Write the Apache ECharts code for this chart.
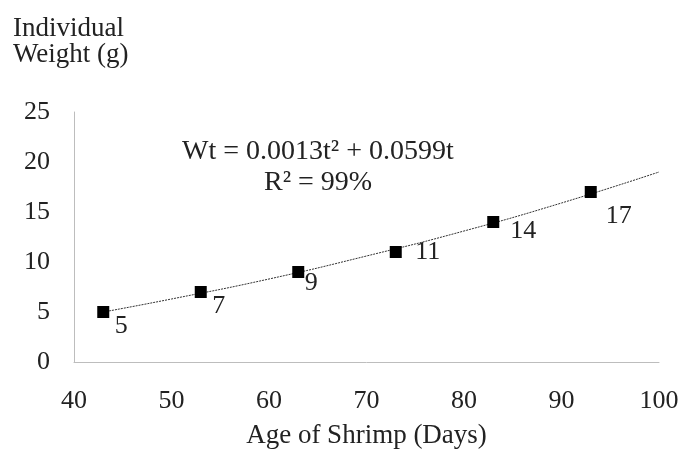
<!DOCTYPE html>
<html>
<head>
<meta charset="utf-8">
<script src="https://cdn.jsdelivr.net/npm/echarts@6/dist/echarts.min.js"></script>
<style>
  html, body { margin: 0; padding: 0; background: #fff; }
  #main { width: 680px; height: 450px; }
</style>
</head>
<body>
<div id="main"></div>
<script>
// observed points
var ages = [43, 53, 63, 73, 83, 93];
var weights = [5, 7, 9, 11, 14, 17];
// trend line
var trendAges = [43, 50, 60, 70, 80, 90, 100];
var trendWeights = [5.0, 6.3, 8.3, 10.6, 13.1, 15.9, 19.0];
var xTicks = [40, 50, 60, 70, 80, 90, 100];
var yTicks = [0, 5, 10, 15, 20, 25];
// label placement (px from marker centre)
var labelOffsets = [[18, 14], [18, 14], [13, 11], [32, 0], [30, 9], [28, 24]];

var chart = echarts.init(document.getElementById('main'));
var serif = '"Liberation Serif", "Times New Roman", serif';
var lineStyle = {
  color: '#bdbdbd',
  width: 1
};

var option = {
  backgroundColor: '#fff',
  animation: false,
  grid: {
    left: 74,
    right: 21,
    top: 112,
    bottom: 88,
    containLabel: false,
    outerBoundsMode: 'none'
  },
  xAxis: {
    type: 'value',
    min: xTicks[0],
    max: xTicks[xTicks.length - 1],
    interval: 10,
    name: 'Age of Shrimp (Days)',
    nameLocation: 'middle',
    nameGap: 60,
    nameTextStyle: { color: '#222', fontSize: 27, fontFamily: serif },
    axisLine: { lineStyle: lineStyle },
    axisTick: { show: false },
    splitLine: { show: false },
    axisLabel: { margin: 26, color: '#222', fontSize: 26, fontFamily: serif }
  },
  yAxis: {
    type: 'value',
    min: yTicks[0],
    max: yTicks[yTicks.length - 1],
    interval: 5,
    axisLine: { show: true, lineStyle: lineStyle },
    axisTick: { show: false },
    splitLine: { show: false },
    axisLabel: { margin: 24, color: '#222', fontSize: 26, fontFamily: serif }
  },
  graphic: [
    {
      type: 'text',
      left: 13,
      top: 15,
      style: {
        text: 'Individual\nWeight (g)',
        fill: '#222',
        font: '27px ' + serif,
        lineHeight: 26
      }
    },
    {
      type: 'text',
      left: 182,
      top: 138,
      style: {
        text: 'Wt = 0.0013t² + 0.0599t',
        fill: '#222',
        font: '28px ' + serif
      }
    },
    {
      type: 'text',
      left: 264,
      top: 169,
      style: {
        text: 'R² = 99%',
        fill: '#222',
        font: '28px ' + serif
      }
    }
  ],
  series: [
    {
      type: 'line',
      data: trendAges.map(function (t, i) { return [t, trendWeights[i]]; }),
      smooth: true,
      symbol: 'none',
      silent: true,
      lineStyle: {
        color: '#333',
        width: 1,
        type: [2, 1]
      },
      z: 1
    },
    {
      type: 'scatter',
      data: ages.map(function (t, i) {
        return {
          value: [t, weights[i]],
          label: { offset: labelOffsets[i] }
        };
      }),
      symbol: 'rect',
      symbolSize: 12,
      itemStyle: { color: '#000', opacity: 1 },
      label: {
        show: true,
        position: 'inside',
        formatter: function (p) { return p.value[1]; },
        color: '#222',
        fontSize: 26,
        fontFamily: serif
      },
      z: 2
    }
  ]
};
chart.setOption(option);
</script>
</body>
</html>
